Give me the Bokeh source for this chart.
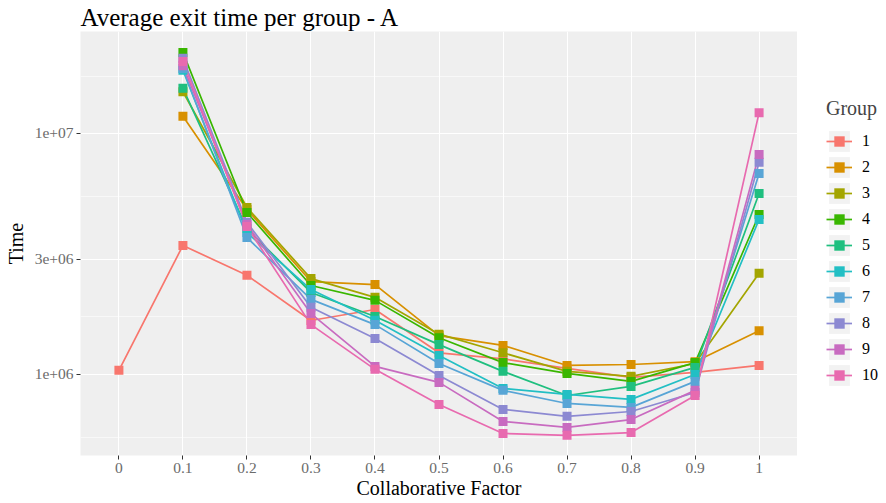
from bokeh.plotting import figure
from bokeh.layouts import row
from bokeh.models import FactorRange, Range1d, FixedTicker, Legend, LegendItem, ColumnDataSource
from bokeh.embed import file_html
from bokeh.resources import INLINE

factors = ["0", "0.1", "0.2", "0.3", "0.4", "0.5", "0.6", "0.7", "0.8", "0.9", "1"]
groups = ["1", "2", "3", "4", "5", "6", "7", "8", "9", "10"]
colors = ["#F8766D", "#D89000", "#A3A500", "#39B600", "#1FBF7F",
          "#22BFC4", "#58A5D6", "#8C89D2", "#C86BC0", "#E86AAF"]

# group 1 has a value at factor 0; the others start at 0.1
g1 = [1.04e6, 3.43e6, 2.58e6, 1.675e6, 1.86e6, 1.23e6, 1.16e6, 1.06e6, 0.972e6, 1.02e6, 1.09e6]
g2 = [1.18e7, 4.84e6, 2.43e6, 2.36e6, 1.45e6, 1.32e6, 1.09e6, 1.10e6, 1.13e6, 1.52e6]
g3 = [1.49e7, 4.93e6, 2.50e6, 2.09e6, 1.47e6, 1.23e6, 1.03e6, 0.982e6, 1.11e6, 2.63e6]
g4 = [2.17e7, 4.70e6, 2.34e6, 2.03e6, 1.42e6, 1.12e6, 1.01e6, 0.936e6, 1.12e6, 4.61e6]
g5 = [1.54e7, 4.03e6, 2.19e6, 1.74e6, 1.33e6, 1.03e6, 0.818e6, 0.892e6, 1.07e6, 5.64e6]
g6 = [1.83e7, 3.88e6, 2.25e6, 1.68e6, 1.20e6, 0.875e6, 0.826e6, 0.788e6, 1.00e6, 4.40e6]
g7 = [1.86e7, 3.70e6, 2.05e6, 1.61e6, 1.11e6, 0.859e6, 0.758e6, 0.730e6, 0.936e6, 6.83e6]
g8 = [2.05e7, 4.28e6, 1.90e6, 1.41e6, 0.991e6, 0.716e6, 0.670e6, 0.702e6, 0.842e6, 7.59e6]
g9 = [1.91e7, 4.19e6, 1.79e6, 1.08e6, 0.927e6, 0.638e6, 0.603e6, 0.650e6, 0.859e6, 8.19e6]
g10 = [1.99e7, 4.11e6, 1.61e6, 1.05e6, 0.751e6, 0.569e6, 0.559e6, 0.574e6, 0.818e6, 1.22e7]
series = [g1, g2, g3, g4, g5, g6, g7, g8, g9, g10]

y_ticks = [1e6, 3e6, 1e7]
y_minor = [5.477e5, 1.732e6, 5.477e6, 1.732e7]
y_labels = ["1e+06", "3e+06", "1e+07"]

FONT = "Liberation Serif"

x_range = FactorRange(factors=factors, range_padding=0.1, range_padding_units="absolute")

p = figure(width=797, height=503, output_backend="svg", toolbar_location=None,
           x_range=x_range, y_range=Range1d(4.61e5, 2.65e7), y_axis_type="log",
           min_border_left=80, min_border_right=0, min_border_top=31, min_border_bottom=48,
           background_fill_color="#EFEFEF", border_fill_color="white", outline_line_color=None)

p.title.text = "Average exit time per group - A"
p.title.text_font = FONT
p.title.text_font_size = "25px"
p.title.text_font_style = "normal"
p.title.text_color = "black"
p.title.align = "left"
p.title.standoff = 2

# axes
for ax in (p.xaxis[0], p.yaxis[0]):
    ax.axis_line_color = None
    ax.major_tick_line_color = "#333333"
    ax.major_tick_in = 0
    ax.major_tick_out = 4
    ax.minor_tick_line_color = None
    ax.major_label_text_font = FONT
    ax.major_label_text_font_size = "15.5px"
    ax.major_label_text_color = "#6b6b6b"
    ax.axis_label_text_font = FONT
    ax.axis_label_text_font_size = "20px"
    ax.axis_label_text_font_style = "normal"
    ax.axis_label_text_color = "black"
    ax.major_label_standoff = 3

p.xaxis.axis_label = "Collaborative Factor"
p.yaxis.axis_label = "Time"
p.xaxis.axis_label_standoff = 1
p.yaxis.axis_label_standoff = 5

yt = FixedTicker(ticks=y_ticks, minor_ticks=y_minor)
p.yaxis.ticker = yt
p.ygrid.ticker = yt
p.yaxis.major_label_overrides = {float(t): lab for t, lab in zip(y_ticks, y_labels)}

p.xgrid.grid_line_color = "white"
p.xgrid.grid_line_width = 1.1
p.ygrid.grid_line_color = "white"
p.ygrid.grid_line_width = 1.1
p.ygrid.minor_grid_line_color = "white"
p.ygrid.minor_grid_line_width = 0.55

sources = []
for i, vals in enumerate(series):
    xs = factors if len(vals) == len(factors) else factors[1:]
    sources.append(ColumnDataSource(dict(x=xs, y=vals)))

for src, c in zip(sources, colors):
    p.line("x", "y", source=src, line_color=c, line_width=1.7)
for src, c in zip(sources, colors):
    p.scatter("x", "y", source=src, marker="square", size=9, fill_color=c, line_color=None)

# legend panel: a narrow figure whose y range lies away from the data,
# so its renderers draw nothing in the plot but supply the legend keys
lg = figure(width=89, height=503, output_backend="svg", toolbar_location=None,
            x_range=x_range, y_range=Range1d(-2, -1),
            x_axis_location=None, y_axis_location=None,
            min_border_left=0, min_border_right=0, min_border_top=0, min_border_bottom=0,
            background_fill_color="white", border_fill_color="white", outline_line_color=None)
lg.xgrid.visible = False
lg.ygrid.visible = False

bg = lg.rect(x="x", y="y", width=0.5, height=1, source=sources[0],
             fill_color="#F2F2F2", line_color=None)
items = []
for g, c, src in zip(groups, colors, sources):
    lr = lg.line("x", "y", source=src, line_color=c, line_width=1.7)
    sr = lg.scatter("x", "y", source=src, marker="square", size=9, fill_color=c, line_color=None)
    items.append(LegendItem(label=g, renderers=[bg, lr, sr]))

legend = Legend(items=items, location=(29, 67), title="Group",
                title_text_font=FONT, title_text_font_size="20px", title_text_font_style="normal",
                title_standoff=8,
                label_text_font=FONT, label_text_font_size="16px", label_text_color="black",
                glyph_width=26, glyph_height=26, label_height=26,
                spacing=0, padding=0, margin=0,
                label_standoff=10, border_line_color=None, background_fill_alpha=0)
lg.add_layout(legend, "center")

layout = row(p, lg, spacing=0)
open("out.html", "w").write(file_html(layout, INLINE))
